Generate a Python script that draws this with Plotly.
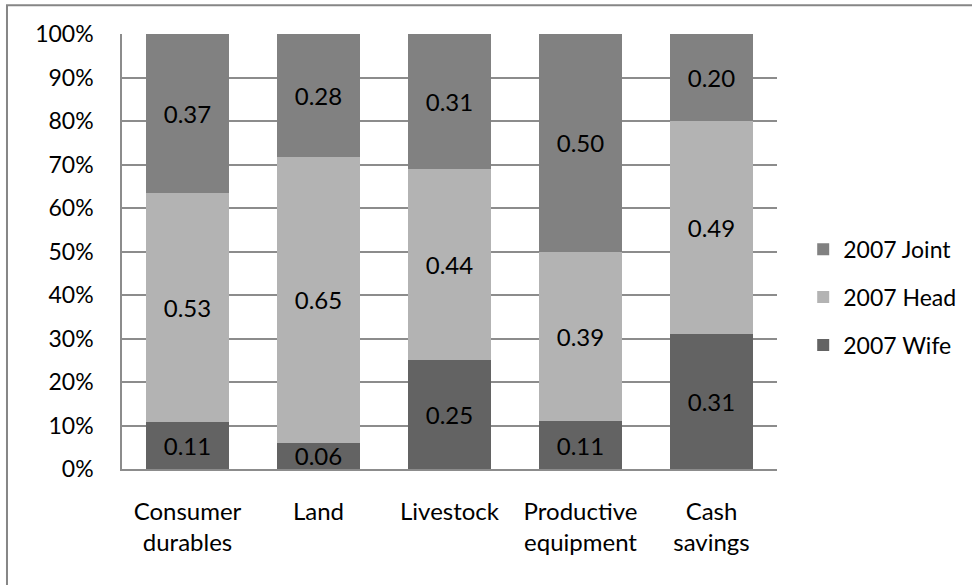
import plotly.graph_objects as go

categories = ["Consumer<br>durables", "Land", "Livestock", "Productive<br>equipment", "Cash<br>savings"]
wife = [0.11, 0.06, 0.25, 0.11, 0.31]
head = [0.53, 0.65, 0.44, 0.39, 0.49]
joint = [0.37, 0.28, 0.31, 0.50, 0.20]
tick_vals = [0, 10, 20, 30, 40, 50, 60, 70, 80, 90, 100]
tick_text = ["0%", "10%", "20%", "30%", "40%", "50%", "60%", "70%", "80%", "90%", "100%"]

series = [
    ("2007 Wife", wife, "#636363", 3),
    ("2007 Head", head, "#b3b3b3", 2),
    ("2007 Joint", joint, "#818181", 1),
]

FONT = "Lato, 'Open Sans', sans-serif"
fig = go.Figure()
for name, vals, color, rank in series:
    fig.add_trace(go.Bar(
        x=categories, y=vals, name=name,
        marker=dict(color=color, line=dict(width=0)),
        text=[f"{v:.2f}" for v in vals],
        textposition="inside", insidetextanchor="middle",
        constraintext="none",
        textfont=dict(color="black", size=24, family=FONT),
        legendgroup=name, legendrank=rank,
    ))

fig.update_layout(
    width=972, height=585,
    barmode="stack", barnorm="percent", bargap=0.36,
    plot_bgcolor="white", paper_bgcolor="white",
    margin=dict(l=122, r=195, t=34, b=116, autoexpand=False),
    font=dict(family=FONT, size=23, color="black"),
    legend=dict(
        x=1.04, xanchor="left", y=0.395, yanchor="middle",
        traceorder="grouped", tracegroupgap=15,
        font=dict(size=23, family=FONT),
        itemwidth=30,
    ),
    showlegend=True,
    shapes=[dict(
        type="rect", xref="paper", yref="paper",
        x0=-0.1756, y0=-1, x1=2, y1=1.066,
        line=dict(color="#868686", width=2), fillcolor="rgba(0,0,0,0)", layer="below",
    )],
)
fig.update_yaxes(
    range=[0, 100], tickvals=tick_vals, ticktext=tick_text,
    showgrid=True, gridcolor="#8c8c8c", gridwidth=1.5,
    showline=True, linecolor="#8c8c8c", linewidth=1.5,
    ticks="", ticklabelstandoff=22, zeroline=False,
    tickfont=dict(size=23, family=FONT),
)
fig.update_xaxes(
    showline=True, linecolor="#8c8c8c", linewidth=2,
    ticks="", ticklabelstandoff=20,
    tickfont=dict(size=24, family=FONT),
)

fig.write_html("out.html", config={"displayModeBar": False},
               post_script="document.body.style.margin='0';")
